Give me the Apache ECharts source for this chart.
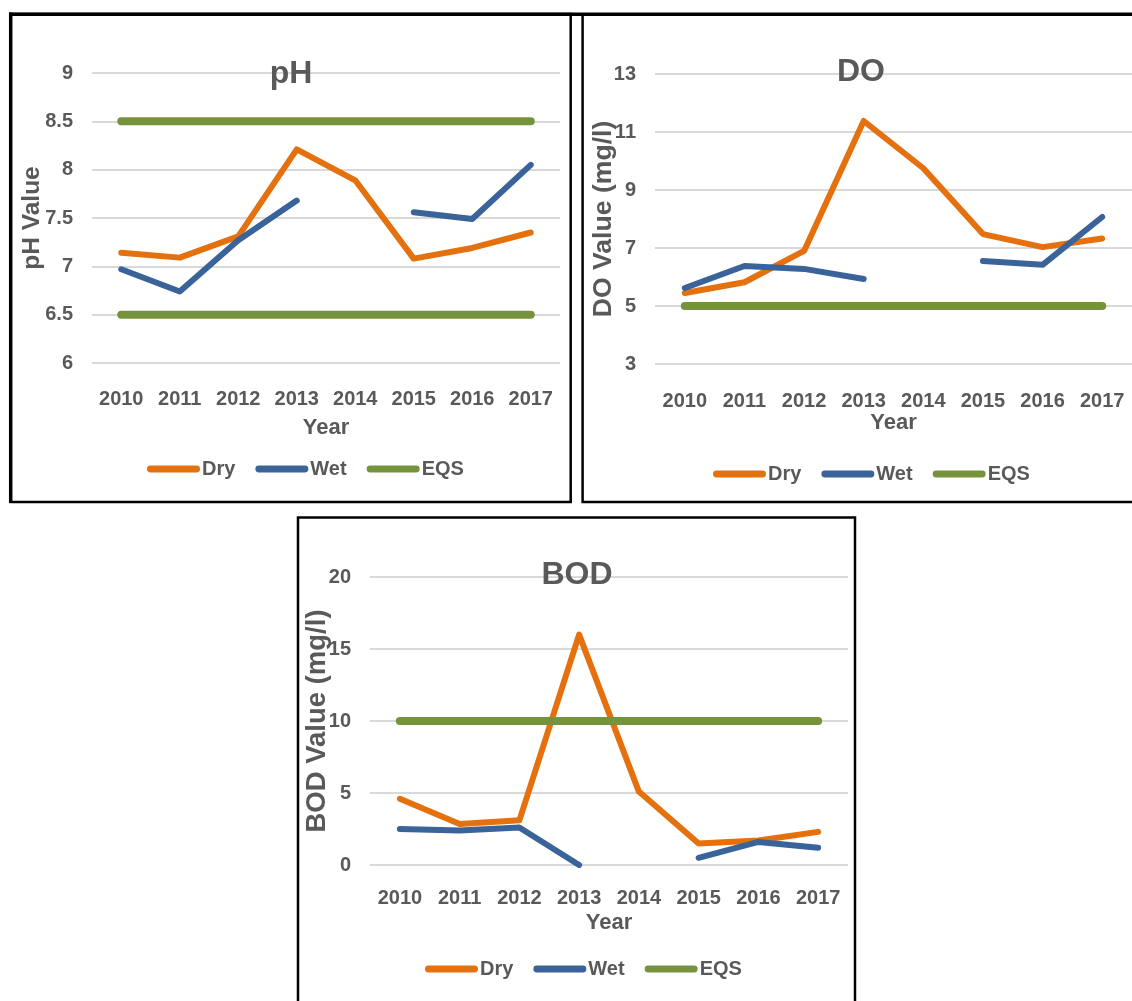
<!DOCTYPE html>
<html>
<head>
<meta charset="utf-8">
<script src="https://cdn.jsdelivr.net/npm/echarts@6/dist/echarts.min.js"></script>
<style>
html,body{margin:0;padding:0;background:#fff;}
#chart{width:1132px;height:1001px;}
</style>
</head>
<body>
<div id="chart"></div>
<script>
// ---------- data ----------
var years = ['2010','2011','2012','2013','2014','2015','2016','2017'];

var phTicks = [6, 6.5, 7, 7.5, 8, 8.5, 9];
var phDry = [7.14, 7.09, 7.31, 8.21, 7.89, 7.08, 7.19, 7.35];
var phWet = [6.97, 6.74, 7.27, 7.68, null, 7.56, 7.49, 8.05];
var phEqsUpper = [8.5, 8.5, 8.5, 8.5, 8.5, 8.5, 8.5, 8.5];
var phEqsLower = [6.5, 6.5, 6.5, 6.5, 6.5, 6.5, 6.5, 6.5];

var doTicks = [3, 5, 7, 9, 11, 13];
var doDry = [5.45, 5.82, 6.9, 11.38, 9.75, 7.48, 7.03, 7.33];
var doWet = [5.62, 6.38, 6.28, 5.93, null, 6.55, 6.42, 8.07];
var doEqs = [5, 5, 5, 5, 5, 5, 5, 5];

var bodTicks = [0, 5, 10, 15, 20];
var bodDry = [4.6, 2.85, 3.1, 16.0, 5.1, 1.5, 1.7, 2.3];
var bodWet = [2.5, 2.4, 2.6, 0, null, 0.5, 1.6, 1.2];
var bodEqs = [10, 10, 10, 10, 10, 10, 10, 10];

var legendNames = ['Dry', 'Wet', 'EQS'];
var titles = ['pH', 'DO', 'BOD'];
var yNames = ['pH Value', 'DO Value (mg/l)', 'BOD Value (mg/l)'];
var xName = 'Year';

// ---------- style ----------
var FONT = '"Liberation Sans", Arial, sans-serif';
var TXT = '#595959';
var C_DRY = '#E5700E', C_WET = '#3A6399', C_EQS = '#76923C';

var chart = echarts.init(document.getElementById('chart'), null, {renderer: 'canvas'});

var grids = [
  {left: 92, top: 73, width: 468, height: 290},
  {left: 655, top: 74, width: 477, height: 290},
  {left: 370, top: 577, width: 478, height: 288}
];
var tickSets = [phTicks, doTicks, bodTicks];
var labelMargins = [26, 27, 23];
var xNameGaps = [54, 48, 47];
var yNameGaps = [47, 38, 39];
var yNameSizes = [24.5, 26.6, 27.5];

function xAxisFor(i) {
  return {
    type: 'category', gridIndex: i, data: years, boundaryGap: true,
    axisLine: {show: false}, axisTick: {show: false},
    axisLabel: {interval: 0, color: TXT, fontFamily: FONT, fontWeight: 'bold', fontSize: 20, margin: labelMargins[i]},
    name: xName, nameLocation: 'middle', nameGap: xNameGaps[i],
    nameTextStyle: {color: TXT, fontFamily: FONT, fontWeight: 'bold', fontSize: 22}
  };
}
function yAxisFor(i) {
  var t = tickSets[i];
  return {
    type: 'value', gridIndex: i, min: t[0], max: t[t.length - 1], interval: t[1] - t[0],
    axisLine: {show: false}, axisTick: {show: false},
    splitLine: {show: true, lineStyle: {color: '#D9D9D9', width: 2}},
    axisLabel: {color: TXT, fontFamily: FONT, fontWeight: 'bold', fontSize: 20, margin: 19},
    name: yNames[i], nameLocation: 'middle', nameGap: yNameGaps[i], nameMoveOverlap: false,
    nameTextStyle: {color: TXT, fontFamily: FONT, fontWeight: 'bold', fontSize: yNameSizes[i]}
  };
}
function line(name, data, i, color, width) {
  return {
    name: name, type: 'line', xAxisIndex: i, yAxisIndex: i, data: data,
    symbol: 'none', connectNulls: false, silent: true,
    lineStyle: {color: color, width: width, cap: 'round', join: 'round'},
    itemStyle: {color: color}
  };
}
var capsule = 'path://M4,0 L57,0 A4,4 0 0 1 57,8 L4,8 A4,4 0 0 1 4,0 Z';
function legendFor(left, top) {
  return {
    left: left, top: top, data: legendNames, icon: capsule, padding: 0,
    itemWidth: 53, itemHeight: 7, itemGap: 20,
    selectedMode: false,
    textStyle: {color: TXT, fontFamily: FONT, fontWeight: 'bold', fontSize: 20, padding: [0, 0, 0, -3]}
  };
}

var option = {
  animation: false,
  grid: grids,
  xAxis: [xAxisFor(0), xAxisFor(1), xAxisFor(2)],
  yAxis: [yAxisFor(0), yAxisFor(1), yAxisFor(2)],
  legend: [legendFor(147, 459), legendFor(713, 464), legendFor(425, 959)],
  series: [
    line('Dry', phDry, 0, C_DRY, 6),
    line('Wet', phWet, 0, C_WET, 6),
    line('EQS', phEqsUpper, 0, C_EQS, 8),
    line('EQS', phEqsLower, 0, C_EQS, 8),
    line('Dry', doDry, 1, C_DRY, 6),
    line('Wet', doWet, 1, C_WET, 6),
    line('EQS', doEqs, 1, C_EQS, 8),
    line('Dry', bodDry, 2, C_DRY, 6),
    line('Wet', bodWet, 2, C_WET, 6),
    line('EQS', bodEqs, 2, C_EQS, 8)
  ],
  graphic: [
    // panel frames
    {type: 'rect', shape: {x: 10.7, y: 14, width: 560, height: 488}, style: {fill: 'none', stroke: '#000', lineWidth: 2.5}, z: 10},
    {type: 'line', shape: {x1: 10.7, y1: 12.5, x2: 10.7, y2: 503}, style: {stroke: '#000', lineWidth: 3.5}, z: 10},
    {type: 'line', shape: {x1: 9, y1: 14.2, x2: 1132, y2: 14.2}, style: {stroke: '#000', lineWidth: 3.5}, z: 10},
    {type: 'polyline', shape: {points: [[1140, 502], [582.6, 502], [582.6, 14]]}, style: {fill: 'none', stroke: '#000', lineWidth: 2.5}, z: 10},
    {type: 'polyline', shape: {points: [[298, 1010], [298, 517.5], [855, 517.5], [855, 1010]]}, style: {fill: 'none', stroke: '#000', lineWidth: 2.5}, z: 10},
    // titles
    {type: 'text', x: 291, y: 74, style: {text: titles[0], fill: TXT, font: 'bold 32px ' + FONT, textAlign: 'center', textVerticalAlign: 'middle'}, z: 20},
    {type: 'text', x: 861, y: 72, style: {text: titles[1], fill: TXT, font: 'bold 32px ' + FONT, textAlign: 'center', textVerticalAlign: 'middle'}, z: 20},
    {type: 'text', x: 577, y: 575, style: {text: titles[2], fill: TXT, font: 'bold 32px ' + FONT, textAlign: 'center', textVerticalAlign: 'middle'}, z: 20}
  ]
};
chart.setOption(option);
</script>
</body>
</html>
